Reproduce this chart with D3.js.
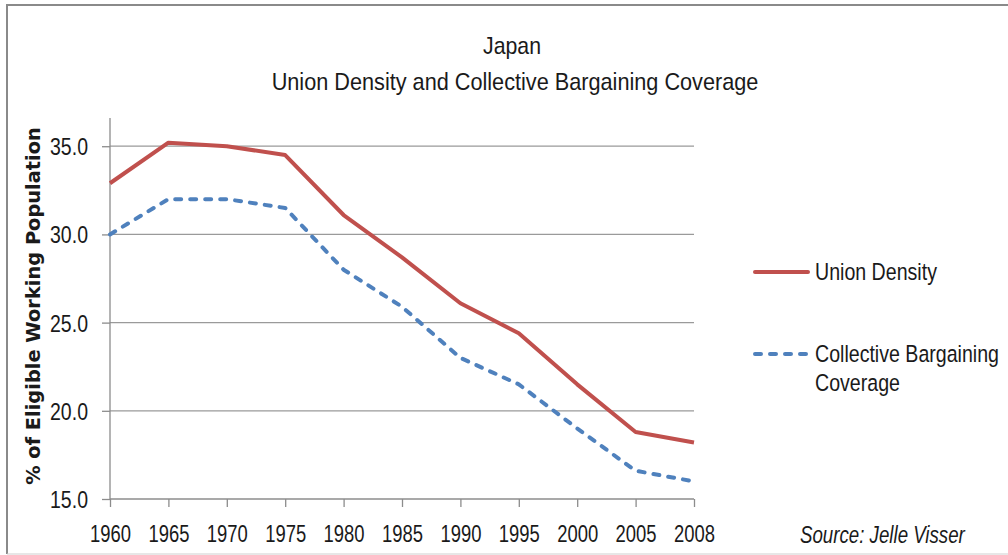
<!DOCTYPE html>
<html>
<head>
<meta charset="utf-8">
<script src="https://cdn.jsdelivr.net/npm/d3@7"></script>
<style>
  html, body { margin: 0; padding: 0; background: #fff; }
  svg { display: block; }
</style>
</head>
<body>
<svg id="chart" width="1008" height="555"></svg>
<script>
// ---- Data ----
const years = ["1960","1965","1970","1975","1980","1985","1990","1995","2000","2005","2008"];
const unionDensity = [32.9, 35.2, 35.0, 34.5, 31.1, 28.7, 26.1, 24.4, 21.5, 18.8, 18.2];
const bargainingCoverage = [30.0, 32.0, 32.0, 31.5, 28.0, 25.9, 23.0, 21.5, 19.0, 16.6, 16.0];
const yTicks = [15, 20, 25, 30, 35];
const seriesNames = ["Union Density", "Collective Bargaining Coverage"];
const titleLines = ["Japan", "Union Density and Collective Bargaining Coverage"];
const yTitle = "% of Eligible Working Population";
const sourceText = "Source: Jelle Visser";

(function () {
// ---- Layout ----
const svg = d3.select("#chart");
const pLeft = 110, pRight = 694, pTop = 118, pBottom = 499;
const font = "'Liberation Sans Narrow', 'Liberation Sans', Arial, sans-serif";
const red = "#C0504D", blue = "#4F81BD";
const gridColor = "#9a9a9a", axisColor = "#8c8c8c";
const ink = "#1a1a1a";

// horizontally squeeze a text (placed at tx,ty) so its width equals target
function squeeze(sel, tx, ty, target) {
  sel.attr("x", 0).attr("y", 0);
  const w = sel.node().getComputedTextLength();
  const sx = w > 0 ? target / w : 1;
  sel.attr("transform", `translate(${tx},${ty}) scale(${sx.toFixed(4)},1)`);
  return sx;
}

// frame
svg.append("line").attr("x1", 7).attr("x2", 1008).attr("y1", 5).attr("y2", 5)
  .attr("stroke", "#8a8a8a").attr("stroke-width", 2);
svg.append("line").attr("x1", 7).attr("x2", 7).attr("y1", 4).attr("y2", 554)
  .attr("stroke", "#8a8a8a").attr("stroke-width", 2);
svg.append("line").attr("x1", 7).attr("x2", 1008).attr("y1", 554).attr("y2", 554)
  .attr("stroke", "#cfcfcf").attr("stroke-width", 1);

const x = d3.scalePoint().domain(years).range([pLeft, pRight]);
const y = d3.scaleLinear().domain([15, 36.6]).range([pBottom, pTop]);

// gridlines
svg.append("g").selectAll("line").data(yTicks.filter(t => t > 15)).join("line")
  .attr("x1", pLeft).attr("x2", pRight)
  .attr("y1", d => y(d)).attr("y2", d => y(d))
  .attr("stroke", gridColor).attr("stroke-width", 1.3);

// y axis
const yAxis = svg.append("g").attr("transform", `translate(${pLeft},0)`)
  .call(d3.axisLeft(y).tickValues(yTicks).tickFormat(d3.format(".1f")).tickSize(8));
yAxis.select(".domain").attr("stroke", axisColor).attr("stroke-width", 1.3).attr("d", `M0,${pTop}V${pBottom}`);
yAxis.selectAll(".tick line").attr("stroke", axisColor).attr("stroke-width", 1.3);
yAxis.selectAll(".tick text").attr("font-family", font).attr("font-size", 23.5).attr("fill", ink)
  .attr("dy", null).attr("text-anchor", "end")
  .each(function () { squeeze(d3.select(this), -22, 8.5, 38); });

// x axis
const xAxis = svg.append("g").attr("transform", `translate(0,${pBottom})`)
  .call(d3.axisBottom(x).tickSize(8));
xAxis.select(".domain").attr("stroke", axisColor).attr("stroke-width", 1.3).attr("d", `M${pLeft},0H${pRight}`);
xAxis.selectAll(".tick line").attr("stroke", axisColor).attr("stroke-width", 1.3);
xAxis.selectAll(".tick text").attr("font-family", font).attr("font-size", 23.5).attr("fill", ink)
  .attr("dy", null).attr("text-anchor", "middle")
  .each(function () { squeeze(d3.select(this), 0, 42.5, 41); });

// lines
const lineGen = d3.line().x((d, i) => x(years[i])).y(d => y(d));
svg.append("path").datum(bargainingCoverage).attr("d", lineGen)
  .attr("fill", "none").attr("stroke", blue).attr("stroke-width", 4)
  .attr("stroke-dasharray", "6,9").attr("stroke-linecap", "round").attr("stroke-linejoin", "round");
svg.append("path").datum(unionDensity).attr("d", lineGen)
  .attr("fill", "none").attr("stroke", red).attr("stroke-width", 4)
  .attr("stroke-linejoin", "round");

// titles
const t1 = svg.append("text").attr("text-anchor", "middle")
  .attr("font-family", font).attr("font-size", 24).attr("fill", ink).text(titleLines[0]);
squeeze(t1, 512, 54, 58);
const t2 = svg.append("text").attr("text-anchor", "middle")
  .attr("font-family", font).attr("font-size", 24).attr("fill", ink).text(titleLines[1]);
squeeze(t2, 515, 90, 487);

// y title
const yt = svg.append("text").attr("transform", "translate(40,306) rotate(-90)")
  .attr("text-anchor", "middle").attr("font-family", "'DejaVu Sans', Verdana, sans-serif")
  .attr("font-weight", "bold").attr("font-size", 17).attr("fill", ink).text(yTitle);
{
  const w = yt.node().getComputedTextLength();
  yt.attr("font-size", (17 * 358 / w).toFixed(2));
}

// legend
const lg = svg.append("g");
lg.append("line").attr("x1", 755).attr("x2", 808).attr("y1", 272).attr("y2", 272)
  .attr("stroke", red).attr("stroke-width", 4).attr("stroke-linecap", "round");
lg.append("line").attr("x1", 755).attr("x2", 808).attr("y1", 354).attr("y2", 354)
  .attr("stroke", blue).attr("stroke-width", 4).attr("stroke-dasharray", "6,9").attr("stroke-linecap", "round");
const l1 = lg.append("text").attr("font-family", font)
  .attr("font-size", 23.5).attr("fill", ink).text(seriesNames[0]);
const lsx = squeeze(l1, 815, 280, 122);
const words = seriesNames[1].split(" ");
lg.append("text").attr("font-family", font).attr("font-size", 23.5).attr("fill", ink)
  .text(words.slice(0, 2).join(" "))
  .attr("transform", `translate(815,362) scale(${lsx.toFixed(4)},1)`);
lg.append("text").attr("font-family", font).attr("font-size", 23.5).attr("fill", ink)
  .text(words.slice(2).join(" "))
  .attr("transform", `translate(815,391) scale(${lsx.toFixed(4)},1)`);

// source
const src = svg.append("text").attr("font-family", font)
  .attr("font-style", "italic").attr("font-size", 23.5).attr("fill", ink).text(sourceText);
squeeze(src, 800, 543, 165);
})();
</script>
</body>
</html>
